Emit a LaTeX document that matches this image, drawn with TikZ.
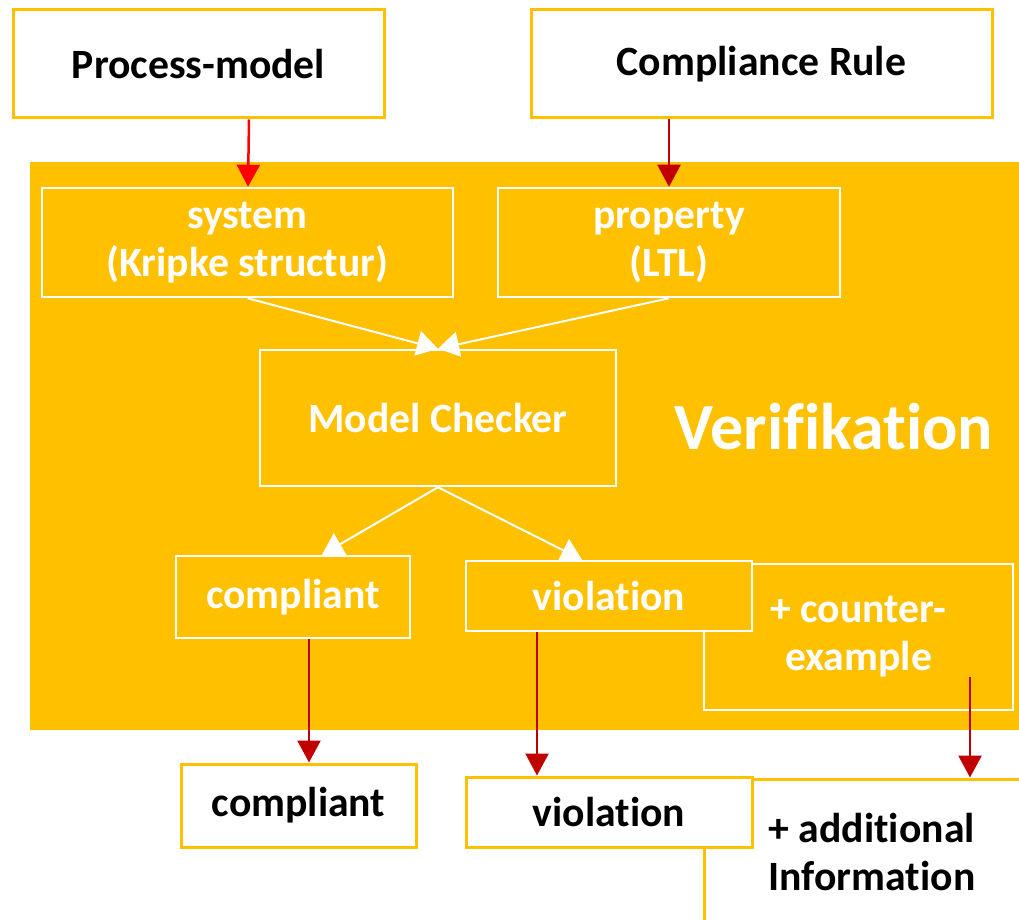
\documentclass[tikz,border=0pt]{standalone}
\usepackage{fontspec}
\setmainfont[Ligatures=NoCommon]{Carlito}
\usetikzlibrary{arrows.meta,calc,positioning}
\definecolor{amber}{HTML}{FFC000}
\definecolor{darkred}{HTML}{C00000}
\begin{document}
\begin{tikzpicture}[x=1pt, y=-1pt,
        basic/.style  = {rectangle, inner sep=0pt, align=center, font=\fontsize{41.7}{48}\selectfont\bfseries},
        outer/.style  = {basic, draw=amber, line width=3pt, fill=white, text=black},
        inner/.style  = {basic, draw=white, line width=2.5pt, fill=amber, text=white},
        panel/.style  = {rectangle, fill=amber, inner sep=0pt},
        feed/.style   = {-{Triangle[width=23pt,length=22pt]}, line width=2.5pt, darkred},
        flow/.style   = {-{Triangle[width=25pt,length=21pt]}, line width=2pt, white},
        >=latex]

        \useasboundingbox (0,0) rectangle (1019,920);
        \clip (0,0) rectangle (1019,920);

        % inputs
        \node[outer, minimum width=371pt, minimum height=108pt] (pm) at (198.5,64) {Process-model};
        \node[outer, minimum width=461pt, minimum height=108pt] (cr) at (761.5,64) {Compliance Rule};

        % the verification panel
        \node[panel, minimum width=989pt, minimum height=568pt] (verif) at (524.5,446) {};
        \node[basic, text=white, font=\fontsize{66}{70}\selectfont\bfseries] (title) at (834,427) {Verifikation};

        % inside the panel
        \node[inner, minimum width=411pt, minimum height=109pt] (sys) at (247.5,242.5) {system\\(Kripke structur)};
        \node[inner, minimum width=342pt, minimum height=109pt] (prop) at (669,242.5) {property\\(LTL)};
        \node[inner, minimum width=356pt, minimum height=136pt] (mc) at (438,418) {Model Checker};
        \node[inner, minimum width=234pt, minimum height=82pt] (comp) at (293,597) {compliant};
        \node[inner, minimum width=309pt, minimum height=146pt] (cex) at (858.5,637) {+ counter-\\example};
        \node[inner, minimum width=286pt, minimum height=70pt] (viol) at (609,596) {violation};

        % results
        \node[outer, minimum width=235pt, minimum height=83pt] (bcomp) at (298.5,805.5) {compliant};
        \node[outer, minimum width=336pt, minimum height=146pt, align=left] (info) at (872,852) {+ additional\\Information};
        \node[outer, minimum width=286pt, minimum height=70pt] (bviol) at (609,812) {violation};

        % start points of the outgoing arrows
        \coordinate (c1) at ($(comp.south)+(16,0)$);
        \coordinate (v1) at ($(viol.south)+(-72,0)$);
        \coordinate (x1) at ($(cex.center)+(111.5,40)$);

        % arrows into the panel
        \draw[feed, red] (249,0 |- pm.south) -- (248,0 |- sys.north);
        \draw[feed] (prop.north |- cr.south) -- (prop.north);

        % arrows inside the panel
        \draw[flow] (sys.south) -- (mc.north);
        \draw[flow] (prop.south) -- (mc.north);
        \draw[flow] (mc.south) -- ($(comp.north)+(29,0)$);
        \draw[flow] (mc.south) -- ($(viol.north)+(-27,0)$);

        % arrows out of the panel
        \draw[feed] (c1) -- (c1 |- bcomp.north);
        \draw[feed] (v1) -- (v1 |- bviol.north);
        \draw[feed] (x1) -- (x1 |- info.north);

    \end{tikzpicture}
\end{document}
